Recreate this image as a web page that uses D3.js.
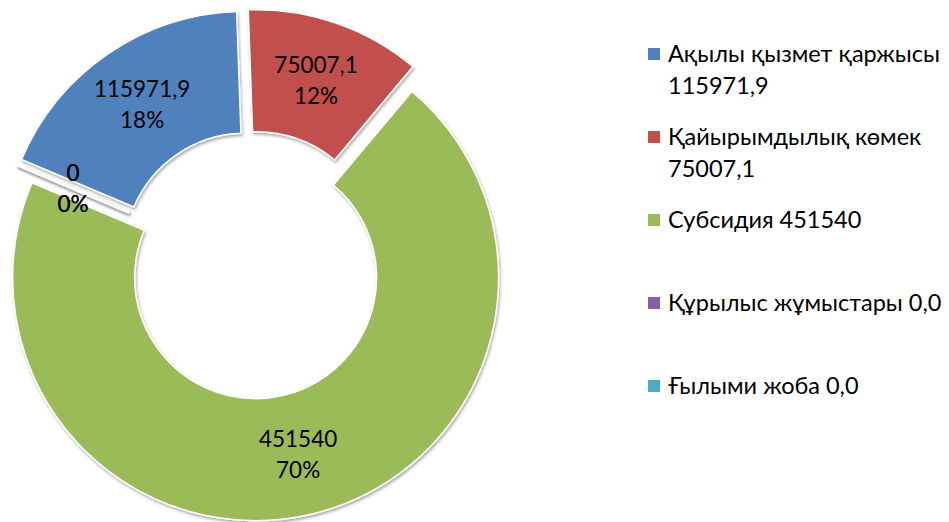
<!DOCTYPE html>
<meta charset="utf-8">
<style>
	body { margin: 0; background: #fff; }
	svg { display: block; font-family: Lato, 'Open Sans', sans-serif; }
</style>
<div id="vis-donut"></div>
<script src="https://cdn.jsdelivr.net/npm/d3@7"></script>
<script>
	// data
	const categories = ['Ақылы қызмет қаржысы', 'Қайырымдылық көмек', 'Субсидия', 'Құрылыс жұмыстары', 'Ғылыми жоба'];
	const values = [115971.9, 75007.1, 451540, 0, 0];
	const valueLabels = ['115971,9', '75007,1', '451540', '0', '0'];
	const legendLines = [
		['Ақылы қызмет қаржысы', '115971,9'],
		['Қайырымдылық көмек', '75007,1'],
		['Субсидия 451540'],
		['Құрылыс жұмыстары 0,0'],
		['Ғылыми жоба 0,0']
	];
	const colors = ['#4F81BD', '#C0504D', '#9BBB59', '#8064A2', '#4BACC6'];

	const width = 949, height = 522;
	const cx = 252.6, cy = 265;
	const outerR = 243, innerR = 121;
	const explode = 13;
	const firstSliceDeg = 293;
	const fontSize = 22.5, legendFont = 23.5, lineGap = 31;

	const svg = d3.select('#vis-donut')
		.append('svg')
		.attr('width', width)
		.attr('height', height);

	// soft shadow like the office chart
	const defs = svg.append('defs');
	const f = defs.append('filter').attr('id', 'shadow')
		.attr('x', '-20%').attr('y', '-20%').attr('width', '140%').attr('height', '140%');
	f.append('feDropShadow')
		.attr('dx', 1).attr('dy', 2).attr('stdDeviation', 1.6)
		.attr('flood-color', '#000').attr('flood-opacity', 0.35);

	const a0 = firstSliceDeg * Math.PI / 180;
	const pie = d3.pie().sort(null).startAngle(a0).endAngle(a0 + 2 * Math.PI);
	const arcs = pie(values);
	const total = d3.sum(values);

	const arc = d3.arc().innerRadius(innerR).outerRadius(outerR);
	const labelArc = d3.arc().innerRadius((innerR + outerR) / 2).outerRadius((innerR + outerR) / 2);

	function offset(d) {
		const m = (d.startAngle + d.endAngle) / 2;
		return [explode * Math.sin(m), -explode * Math.cos(m)];
	}

	const g = svg.append('g').attr('transform', `translate(${cx},${cy})`);

	// zero slices first so the real ones sit on top
	const order = d3.range(arcs.length).sort((i, j) => (values[i] > 0) - (values[j] > 0));

	g.selectAll('path.slice')
		.data(order.map(i => ({ a: arcs[i], i: i })))
		.enter()
		.append('path')
		.attr('class', 'slice')
		.attr('transform', d => `translate(${offset(d.a)})`)
		.attr('d', d => arc(d.a))
		.attr('fill', d => colors[d.i])
		.attr('stroke', '#fff')
		.attr('stroke-width', d => values[d.i] > 0 ? 1.5 : 2.5)
		.attr('filter', 'url(#shadow)');

	// data labels: value + percent
	const lab = g.selectAll('g.label')
		.data(arcs)
		.enter()
		.append('g')
		.attr('class', 'label')
		.attr('transform', d => {
			const o = offset(d), c = labelArc.centroid(d);
			return `translate(${c[0] + o[0]},${c[1] + o[1]})`;
		});

	lab.append('text')
		.attr('text-anchor', 'middle')
		.attr('y', -lineGap / 2 + 8)
		.attr('font-size', fontSize)
		.attr('fill', '#000')
		.text((d, i) => valueLabels[i]);

	lab.append('text')
		.attr('text-anchor', 'middle')
		.attr('y', lineGap / 2 + 8)
		.attr('font-size', fontSize)
		.attr('fill', '#000')
		.text(d => Math.round(d.value / total * 100) + '%');

	// legend
	const ly = d3.scalePoint().domain(categories).range([54, 386]);
	const leg = svg.append('g').selectAll('g')
		.data(categories)
		.enter()
		.append('g')
		.attr('transform', d => `translate(648,${ly(d)})`);

	leg.append('rect')
		.attr('x', 0).attr('y', -6)
		.attr('width', 12).attr('height', 12)
		.attr('fill', (d, i) => colors[i]);

	leg.append('text')
		.attr('font-size', legendFont)
		.attr('fill', '#000')
		.selectAll('tspan')
		.data((d, i) => legendLines[i])
		.enter()
		.append('tspan')
		.attr('x', 20)
		.attr('y', (d, k) => 8 + k * (lineGap + 1))
		.text(d => d);
</script>
